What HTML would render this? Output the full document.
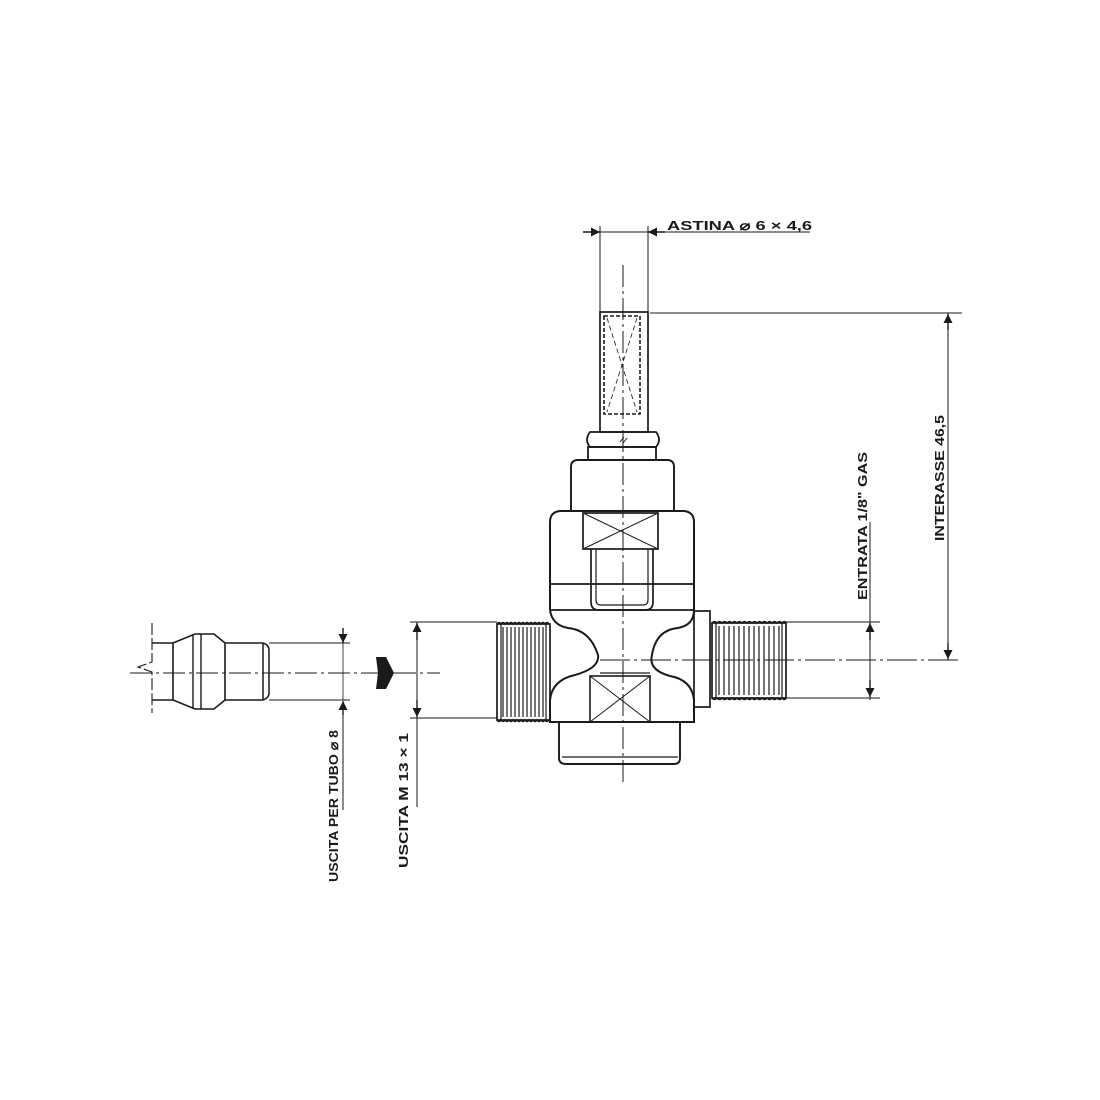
<!DOCTYPE html>
<html><head><meta charset="utf-8"><style>
html,body{margin:0;padding:0;background:#fff;}
svg{display:block}
text{font-family:"Liberation Sans",sans-serif;font-weight:bold;fill:#1a1a1a;font-size:13px}
</style></head><body>
<svg width="1100" height="1100" viewBox="0 0 1100 1100" xmlns="http://www.w3.org/2000/svg">
<defs>
<marker id="a" viewBox="0 0 10 10" refX="10" refY="5" markerWidth="9" markerHeight="13" orient="auto" markerUnits="userSpaceOnUse"><path d="M0,0 L10,5 L0,10 z" fill="#1a1a1a"/></marker>
</defs>
<g fill="none" stroke="#1a1a1a" stroke-width="1.4">
<line x1="623" y1="265" x2="623" y2="785" stroke-dasharray="22,4,3,4" stroke-width="1"/>
<line x1="130" y1="673" x2="440" y2="673" stroke-dasharray="22,4,3,4" stroke-width="1"/>
<line x1="600" y1="660" x2="962" y2="660" stroke-dasharray="30,4,3,4" stroke-width="1"/>

<line x1="600" y1="226" x2="600" y2="312" stroke-width="1"/>
<line x1="648" y1="226" x2="648" y2="312" stroke-width="1"/>
<line x1="583" y1="232" x2="600" y2="232" marker-end="url(#a)"/>
<line x1="665" y1="232" x2="648" y2="232" marker-end="url(#a)"/>
<line x1="600" y1="232" x2="648" y2="232" stroke-width="1"/>
<line x1="665" y1="232" x2="810" y2="232" stroke-width="1"/>

<rect x="600" y="312" width="48" height="120" stroke-width="1.7"/>
<rect x="604" y="316" width="36" height="98" stroke-dasharray="4,2" stroke-width="1.6"/>
<path d="M607,318 L637,412 M637,318 L607,412" stroke-width="0.8" stroke-dasharray="5,3"/>
<path d="M590,432 L656,432 Q662,440 656,447 L590,447 Q584,440 590,432 Z" stroke-width="1.8"/>
<rect x="588" y="447" width="68" height="13" stroke-width="1.8"/>
<path d="M620,442 L624,437 M623,443 L627,438" stroke-width="1"/>
<path d="M571,510 L571,467 Q571,460 578,460 L667,460 Q674,460 674,467 L674,510" stroke-width="1.9"/>
<path d="M550,610 L550,522 Q550,512 560,511 L684,511 Q694,512 694,522 L694,610" stroke-width="2"/>
<line x1="550" y1="584" x2="694" y2="584" stroke-width="1.8"/>
<rect x="583" y="513" width="75" height="36" stroke-width="1.7"/>
<path d="M583,513 L658,549 M658,513 L583,549" stroke-width="1"/>
<path d="M591,549 L591,602 Q591,610 599,610 L645,610 Q653,610 653,602 L653,549" stroke-width="1.7"/>
<path d="M596,549 L596,600 Q596,605 601,605 L643,605 Q648,605 648,600 L648,549" stroke-width="1.2"/>
<path d="M550,610 Q552,625 568,628 Q590,630 598,655 Q600,668 575,675 Q552,680 550,700 L550,722 L694,722 L694,700 Q692,680 670,676 Q648,670 652,655 Q656,630 678,628 Q694,625 694,610" stroke-width="2"/>
<line x1="550" y1="610" x2="694" y2="610" stroke-width="1.7"/>
<line x1="600" y1="673" x2="650" y2="673" stroke-width="1.2"/>
<rect x="694" y="611" width="16" height="96" stroke-width="1.7"/>
<rect x="590" y="676" width="60" height="46" stroke-width="1.6"/>
<path d="M590,676 L650,722 M650,676 L590,722" stroke-width="1"/>
<path d="M559,722 L559,758 Q559,764 566,764 L674,764 Q680,764 680,758 L680,722" stroke-width="1.9"/>
<line x1="562" y1="757" x2="678" y2="757" stroke-width="1.2"/>

<rect x="497" y="624" width="53" height="96" stroke-width="1.7"/>
<path d="M501,624 L501,720 M546,624 L546,720" stroke-width="1.2"/>
<path d="M503,627 L503,717 M507,627 L507,717 M511,627 L511,717 M515,627 L515,717 M519,627 L519,717 M523,627 L523,717 M527,627 L527,717 M531,627 L531,717 M535,627 L535,717 M539,627 L539,717 M543,627 L543,717" stroke-width="1.2"/>
<path d="M497,624 q2,-3 4,0 q2,-3 4,0 q2,-3 4,0 q2,-3 4,0 q2,-3 4,0 q2,-3 4,0 q2,-3 4,0 q2,-3 4,0 q2,-3 4,0 q2,-3 4,0 q2,-3 4,0 q2,-3 4,0 q2,-3 4,0" stroke-width="1.5"/>
<path d="M497,720 q2,3 4,0 q2,3 4,0 q2,3 4,0 q2,3 4,0 q2,3 4,0 q2,3 4,0 q2,3 4,0 q2,3 4,0 q2,3 4,0 q2,3 4,0 q2,3 4,0 q2,3 4,0 q2,3 4,0" stroke-width="1.5"/>

<rect x="712" y="623" width="74" height="75" stroke-width="1.7"/>
<path d="M716,623 L716,698 M782,623 L782,698" stroke-width="1.2"/>
<path d="M719,626 L719,695 M724,626 L724,695 M729,626 L729,695 M734,626 L734,695 M739,626 L739,695 M744,626 L744,695 M749,626 L749,695 M754,626 L754,695 M759,626 L759,695 M764,626 L764,695 M769,626 L769,695 M774,626 L774,695 M779,626 L779,695" stroke-width="1.2"/>
<path d="M712,623 q2.5,-3 5,0 q2.5,-3 5,0 q2.5,-3 5,0 q2.5,-3 5,0 q2.5,-3 5,0 q2.5,-3 5,0 q2.5,-3 5,0 q2.5,-3 5,0 q2.5,-3 5,0 q2.5,-3 5,0 q2.5,-3 5,0 q2.5,-3 5,0 q2.5,-3 5,0 q2.5,-3 5,0 q2.5,-3 4,0" stroke-width="1.5"/>
<path d="M712,698 q2.5,3 5,0 q2.5,3 5,0 q2.5,3 5,0 q2.5,3 5,0 q2.5,3 5,0 q2.5,3 5,0 q2.5,3 5,0 q2.5,3 5,0 q2.5,3 5,0 q2.5,3 5,0 q2.5,3 5,0 q2.5,3 5,0 q2.5,3 5,0 q2.5,3 5,0 q2.5,3 4,0" stroke-width="1.5"/>

<line x1="650" y1="313" x2="962" y2="313" stroke-width="1"/>
<line x1="948" y1="313" x2="948" y2="660" stroke-width="1"/>
<line x1="948" y1="330" x2="948" y2="314" marker-end="url(#a)"/>
<line x1="948" y1="643" x2="948" y2="659" marker-end="url(#a)"/>
<line x1="786" y1="622" x2="880" y2="622" stroke-width="1"/>
<line x1="786" y1="698" x2="880" y2="698" stroke-width="1"/>
<line x1="870" y1="522" x2="870" y2="700" stroke-width="1"/>
<line x1="870" y1="640" x2="870" y2="623" marker-end="url(#a)"/>
<line x1="870" y1="680" x2="870" y2="697" marker-end="url(#a)"/>

<path d="M152,623 L152,662 L138,667 L152,672 L152,713" stroke-width="1.1" stroke-dasharray="12,3"/>
<line x1="152" y1="643" x2="173" y2="643"/>
<line x1="152" y1="700" x2="173" y2="700"/>
<path d="M173,643 L195,634 L214,634 L225,643 L225,700 L214,709 L195,709 L173,700 Z" stroke-width="1.6"/>
<line x1="193" y1="634" x2="193" y2="709"/>
<line x1="201" y1="634" x2="201" y2="709"/>
<line x1="225" y1="643" x2="263" y2="643" stroke-width="1.6"/>
<line x1="225" y1="700" x2="263" y2="700" stroke-width="1.6"/>
<line x1="263" y1="643" x2="263" y2="700" stroke-width="1.5"/>
<path d="M263,643 Q269,645 269,650 L269,693 Q269,698 263,700" stroke-width="1.5"/>
<line x1="269" y1="643" x2="350" y2="643" stroke-width="1"/>
<line x1="269" y1="700" x2="350" y2="700" stroke-width="1"/>
<line x1="343" y1="628" x2="343" y2="643" marker-end="url(#a)"/>
<line x1="343" y1="715" x2="343" y2="701" marker-end="url(#a)"/>
<line x1="343" y1="643" x2="343" y2="700" stroke-width="0.8"/>
<line x1="343" y1="715" x2="343" y2="810" stroke-width="1"/>

<line x1="410" y1="622" x2="497" y2="622" stroke-width="1"/>
<line x1="410" y1="718" x2="497" y2="718" stroke-width="1"/>
<line x1="417" y1="622" x2="417" y2="807" stroke-width="1"/>
<line x1="417" y1="640" x2="417" y2="623" marker-end="url(#a)"/>
<line x1="417" y1="700" x2="417" y2="717" marker-end="url(#a)"/>
</g>
<path d="M376,657 L386,657 L394,673 L386,689 L376,689 L378,673 Z" fill="#1a1a1a"/>

<text x="667" y="230" textLength="145" lengthAdjust="spacingAndGlyphs">ASTINA ⌀ 6 × 4,6</text>
<text transform="translate(944,541) rotate(-90)" textLength="126" lengthAdjust="spacingAndGlyphs">INTERASSE 46,5</text>
<text transform="translate(867,600) rotate(-90)" textLength="148" lengthAdjust="spacingAndGlyphs">ENTRATA 1/8" GAS</text>
<text transform="translate(338,882) rotate(-90)" textLength="152" lengthAdjust="spacingAndGlyphs">USCITA PER TUBO ⌀ 8</text>
<text transform="translate(408,868) rotate(-90)" textLength="135" lengthAdjust="spacingAndGlyphs">USCITA M 13 × 1</text>
</svg>
</body></html>
